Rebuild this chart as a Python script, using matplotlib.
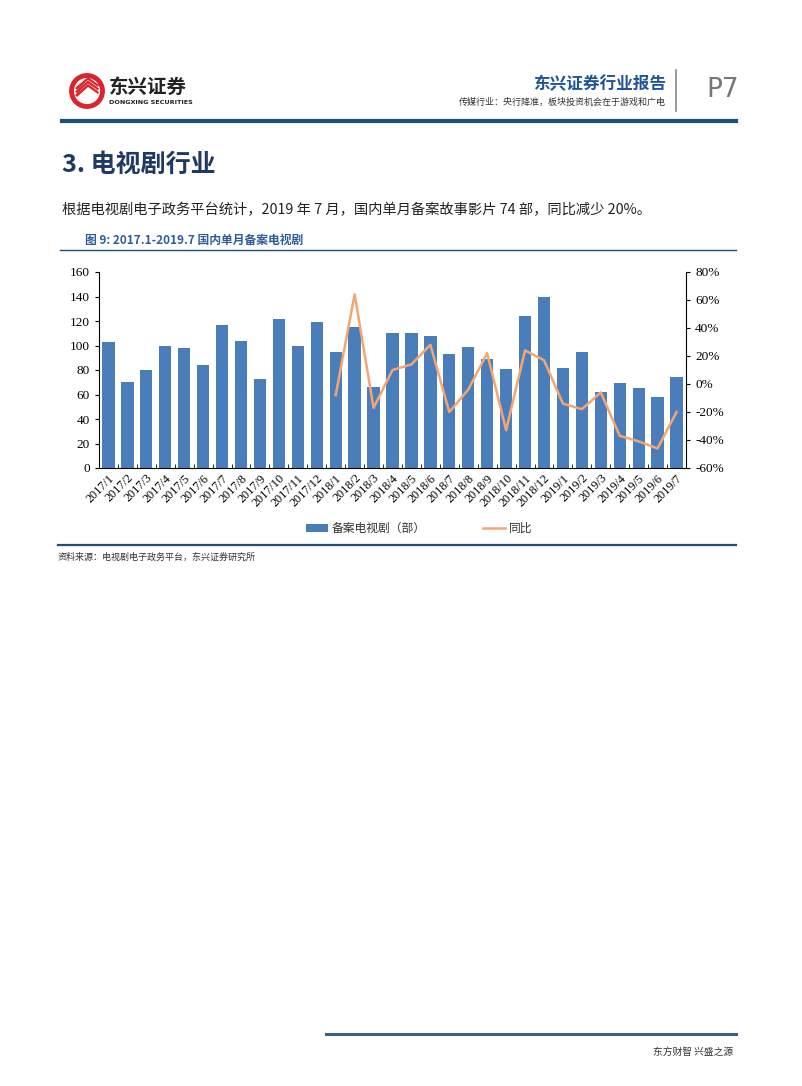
import numpy as np
import matplotlib.pyplot as plt
from matplotlib.patches import Circle, Rectangle, Polygon

plt.rcParams['font.family'] = ['Noto Sans CJK SC', 'DejaVu Sans']

months = ['2017/1', '2017/2', '2017/3', '2017/4', '2017/5', '2017/6', '2017/7', '2017/8',
          '2017/9', '2017/10', '2017/11', '2017/12', '2018/1', '2018/2', '2018/3', '2018/4',
          '2018/5', '2018/6', '2018/7', '2018/8', '2018/9', '2018/10', '2018/11', '2018/12',
          '2019/1', '2019/2', '2019/3', '2019/4', '2019/5', '2019/6', '2019/7']
series = [103, 70, 80, 100, 98, 84, 117, 104, 73, 122, 100, 119, 95, 115, 66, 110,
          110, 108, 93, 99, 89, 81, 124, 140, 82, 95, 62, 69, 65, 58, 74]
# yoy (%) available from 2018/1
yoy = [-8, 64, -17, 10, 14, 28, -20, -4, 22, -33, 24, 17, -14, -18, -6, -37, -41, -46, -20]
left_ticks = [0, 20, 40, 60, 80, 100, 120, 140, 160]
right_ticks = [-60, -40, -20, 0, 20, 40, 60, 80]

W, H = 802, 1086
fig = plt.figure(figsize=(W / 100, H / 100), dpi=100)

# page overlay in pixel coords
pg = fig.add_axes([0, 0, 1, 1])
pg.set_xlim(0, W)
pg.set_ylim(H, 0)
pg.axis('off')

navy = '#1f4e79'
red = '#d9262c'
# logo
pg.add_patch(Circle((87, 91), 15.5, facecolor='white', edgecolor=red, lw=3.5))
for k in range(3):
    d = k * 3.5
    pg.add_patch(Polygon([(75, 95 - d), (88, 84 - d), (99, 92 - d), (98, 94 - d), (88, 87 - d), (77, 97 - d)],
                         closed=True, facecolor=red, edgecolor='none'))
pg.text(109, 87, '东兴证券', fontsize=14, fontweight='bold', color='#222222', va='center', ha='left')
pg.text(109, 102.5, 'DONGXING SECURITIES', fontsize=4.6, fontweight='bold', color='#222222', va='center',
        ha='left', family='DejaVu Sans')

pg.text(666, 84, '东兴证券行业报告', fontsize=12, fontweight='bold', color='#1f5597', ha='right', va='center')
pg.text(666, 102, '传媒行业：央行降准，板块投资机会在于游戏和广电', fontsize=6.5, color='#333333', ha='right',
        va='center', style='italic')
pg.plot([676, 676], [70, 111], color='#888888', lw=1.2)
pg.text(706, 90, 'P7', fontsize=19, color='#777777', ha='left', va='center', family='DejaVu Sans')
pg.plot([62, 736], [121, 121], color=navy, lw=3)

pg.text(62, 165, '3. 电视剧行业', fontsize=18, fontweight='bold', color='#1f3864', ha='left', va='center')
pg.text(62, 210, '根据电视剧电子政务平台统计，2019 年 7 月，国内单月备案故事影片 74 部，同比减少 20%。',
        fontsize=10.3, color='#222222', ha='left', va='center')
pg.text(85, 240, '图 9: 2017.1-2019.7 国内单月备案电视剧', fontsize=8.5, fontweight='bold', color='#2e5c9a',
        ha='left', va='center')
pg.plot([60, 736], [250, 250], color=navy, lw=1)

# legend
pg.add_patch(Rectangle((306, 524), 22, 8, facecolor='#4a7ebb', edgecolor='none'))
pg.text(332, 528, '备案电视剧（部）', fontsize=8.5, color='#333333', ha='left', va='center')
pg.plot([483, 505], [528, 528], color='#f4a672', lw=1.8)
pg.text(509, 528, '同比', fontsize=8.5, color='#333333', ha='left', va='center')

pg.plot([58, 736], [545, 545], color=navy, lw=1.6)
pg.text(58, 557, '资料来源：电视剧电子政务平台，东兴证券研究所', fontsize=6.5, color='#333333', ha='left',
        va='center', style='italic')

pg.plot([326, 736], [1034, 1034], color='#3a5f80', lw=2.2)
pg.text(733, 1052, '东方财智 兴盛之源', fontsize=7, color='#333333', ha='right', va='center')

# chart
ax = fig.add_axes([99 / W, 1 - 468 / H, (686 - 99) / W, 196 / H])
x = np.arange(len(months))
ax.bar(x, series, width=0.65, color='#4a7ebb', zorder=2)
ax.set_xlim(-0.5, len(months) - 0.5)
ax.set_ylim(0, 160)
ax.set_yticks(left_ticks)
ax.set_xticks(x)
ax.set_xticklabels(months, rotation=45, ha='right', rotation_mode='anchor', fontsize=8.8,
                   family='Liberation Serif')
ax.tick_params(axis='x', length=0, pad=3)
ax.set_xticks(np.arange(len(months) + 1) - 0.5, minor=True)
ax.tick_params(axis='x', which='minor', direction='in', length=3)
for lab in ax.get_yticklabels():
    lab.set_family('Liberation Serif')
ax.tick_params(axis='y', labelsize=9.5, length=3, direction='out')
ax.spines['top'].set_visible(False)
ax.spines['right'].set_visible(False)

ax2 = ax.twinx()
ax2.plot(x[12:], yoy, color='#f4a672', lw=1.8, zorder=3)
ax2.set_ylim(-60, 80)
ax2.set_yticks(right_ticks)
ax2.set_yticklabels([f'{v}%' for v in right_ticks], family='Liberation Serif', fontsize=9.5)
ax2.tick_params(axis='y', length=3, direction='out')
ax2.spines['top'].set_visible(False)
ax2.spines['left'].set_visible(False)
ax2.spines['bottom'].set_visible(False)

fig.savefig('out.png', dpi=100)
